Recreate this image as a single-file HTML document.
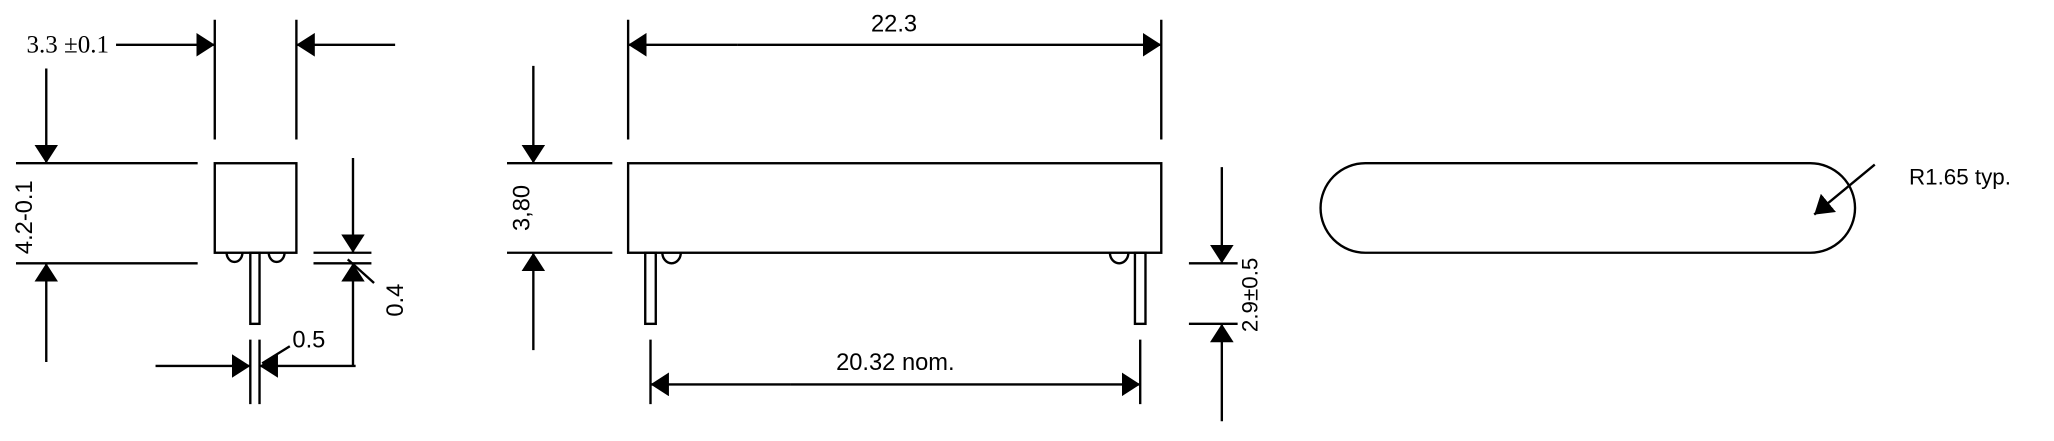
<!DOCTYPE html>
<html><head><meta charset="utf-8"><style>html,body{margin:0;padding:0;background:#fff}svg{display:block}</style></head>
<body>
<svg width="2054" height="441" viewBox="0 0 1560 335" xmlns="http://www.w3.org/2000/svg" font-family="'Liberation Sans', sans-serif" fill="none" stroke="#000" stroke-width="1.8">
<defs>
<marker id="a" viewBox="0 0 14 18" refX="14" refY="9" markerWidth="14" markerHeight="18" markerUnits="userSpaceOnUse" orient="auto"><path d="M0,0L14,9L0,18z" fill="#000" stroke="none"/></marker>
</defs>
<!-- LEFT VIEW -->
<text x="20" y="40" font-family="'Liberation Serif', serif" font-size="19" fill="#000" stroke="none">3.3 ±0.1</text>
<line x1="88" y1="34" x2="163" y2="34" marker-end="url(#a)"/>
<line x1="300" y1="34" x2="225" y2="34" marker-end="url(#a)"/>
<line x1="163" y1="15" x2="163" y2="106"/>
<line x1="225" y1="15" x2="225" y2="106"/>
<rect x="163" y="124" width="62" height="68"/>
<line x1="12" y1="124" x2="150" y2="124"/>
<line x1="12" y1="200" x2="150" y2="200"/>
<line x1="35" y1="52" x2="35" y2="124" marker-end="url(#a)"/>
<line x1="35" y1="275" x2="35" y2="200" marker-end="url(#a)"/>
<text transform="translate(24,165) rotate(-90)" text-anchor="middle" font-size="18" fill="#000" stroke="none">4.2-0.1</text>
<path d="M172,192 A6,7 0 0 0 184,192"/>
<path d="M204,192 A6,7 0 0 0 216,192"/>
<rect x="190" y="192" width="7" height="54"/>
<line x1="238" y1="192" x2="282" y2="192"/>
<line x1="238" y1="200" x2="282" y2="200"/>
<line x1="268" y1="120" x2="268" y2="192" marker-end="url(#a)"/>
<line x1="268" y1="278" x2="268" y2="200" marker-end="url(#a)"/>
<line x1="264" y1="197" x2="284" y2="215"/>
<text transform="translate(306,228) rotate(-90)" text-anchor="middle" font-size="18" fill="#000" stroke="none">0.4</text>
<line x1="190" y1="258" x2="190" y2="307"/>
<line x1="197" y1="258" x2="197" y2="307"/>
<line x1="118" y1="278" x2="190" y2="278" marker-end="url(#a)"/>
<line x1="270" y1="278" x2="197" y2="278" marker-end="url(#a)"/>
<line x1="199" y1="276" x2="220" y2="263"/>
<text x="222" y="264" font-size="18" fill="#000" stroke="none">0.5</text>
<!-- MIDDLE VIEW -->
<line x1="477" y1="15" x2="477" y2="106"/>
<line x1="882" y1="15" x2="882" y2="106"/>
<line x1="560" y1="34" x2="477" y2="34" marker-end="url(#a)"/>
<line x1="560" y1="34" x2="882" y2="34" marker-end="url(#a)"/>
<text x="679" y="24" text-anchor="middle" font-size="18" fill="#000" stroke="none">22.3</text>
<rect x="477" y="124" width="405" height="68"/>
<line x1="385" y1="124" x2="465" y2="124"/>
<line x1="385" y1="192" x2="465" y2="192"/>
<line x1="405" y1="50" x2="405" y2="124" marker-end="url(#a)"/>
<line x1="405" y1="266" x2="405" y2="192" marker-end="url(#a)"/>
<text transform="translate(402,158) rotate(-90)" text-anchor="middle" font-size="18" fill="#000" stroke="none">3,80</text>
<rect x="490" y="192" width="8" height="54"/>
<rect x="862" y="192" width="8" height="54"/>
<path d="M503,192 A7,8 0 0 0 517,192"/>
<path d="M843,192 A7,8 0 0 0 857,192"/>
<line x1="494" y1="258" x2="494" y2="307"/>
<line x1="866" y1="258" x2="866" y2="307"/>
<line x1="600" y1="292" x2="494" y2="292" marker-end="url(#a)"/>
<line x1="600" y1="292" x2="866" y2="292" marker-end="url(#a)"/>
<text x="680" y="281" text-anchor="middle" font-size="18" fill="#000" stroke="none">20.32 nom.</text>
<line x1="903" y1="200" x2="940" y2="200"/>
<line x1="903" y1="246" x2="940" y2="246"/>
<line x1="928" y1="127" x2="928" y2="200" marker-end="url(#a)"/>
<line x1="928" y1="320" x2="928" y2="246" marker-end="url(#a)"/>
<text transform="translate(955,224) rotate(-90)" text-anchor="middle" font-size="17" fill="#000" stroke="none">2.9±0.5</text>
<!-- RIGHT VIEW -->
<rect x="1003" y="124" width="406" height="68" rx="34" ry="34"/>
<line x1="1424" y1="125" x2="1378" y2="163" marker-end="url(#a)"/>
<text x="1450" y="140" font-size="17" fill="#000" stroke="none">R1.65 typ.</text>
</svg>
</body></html>
